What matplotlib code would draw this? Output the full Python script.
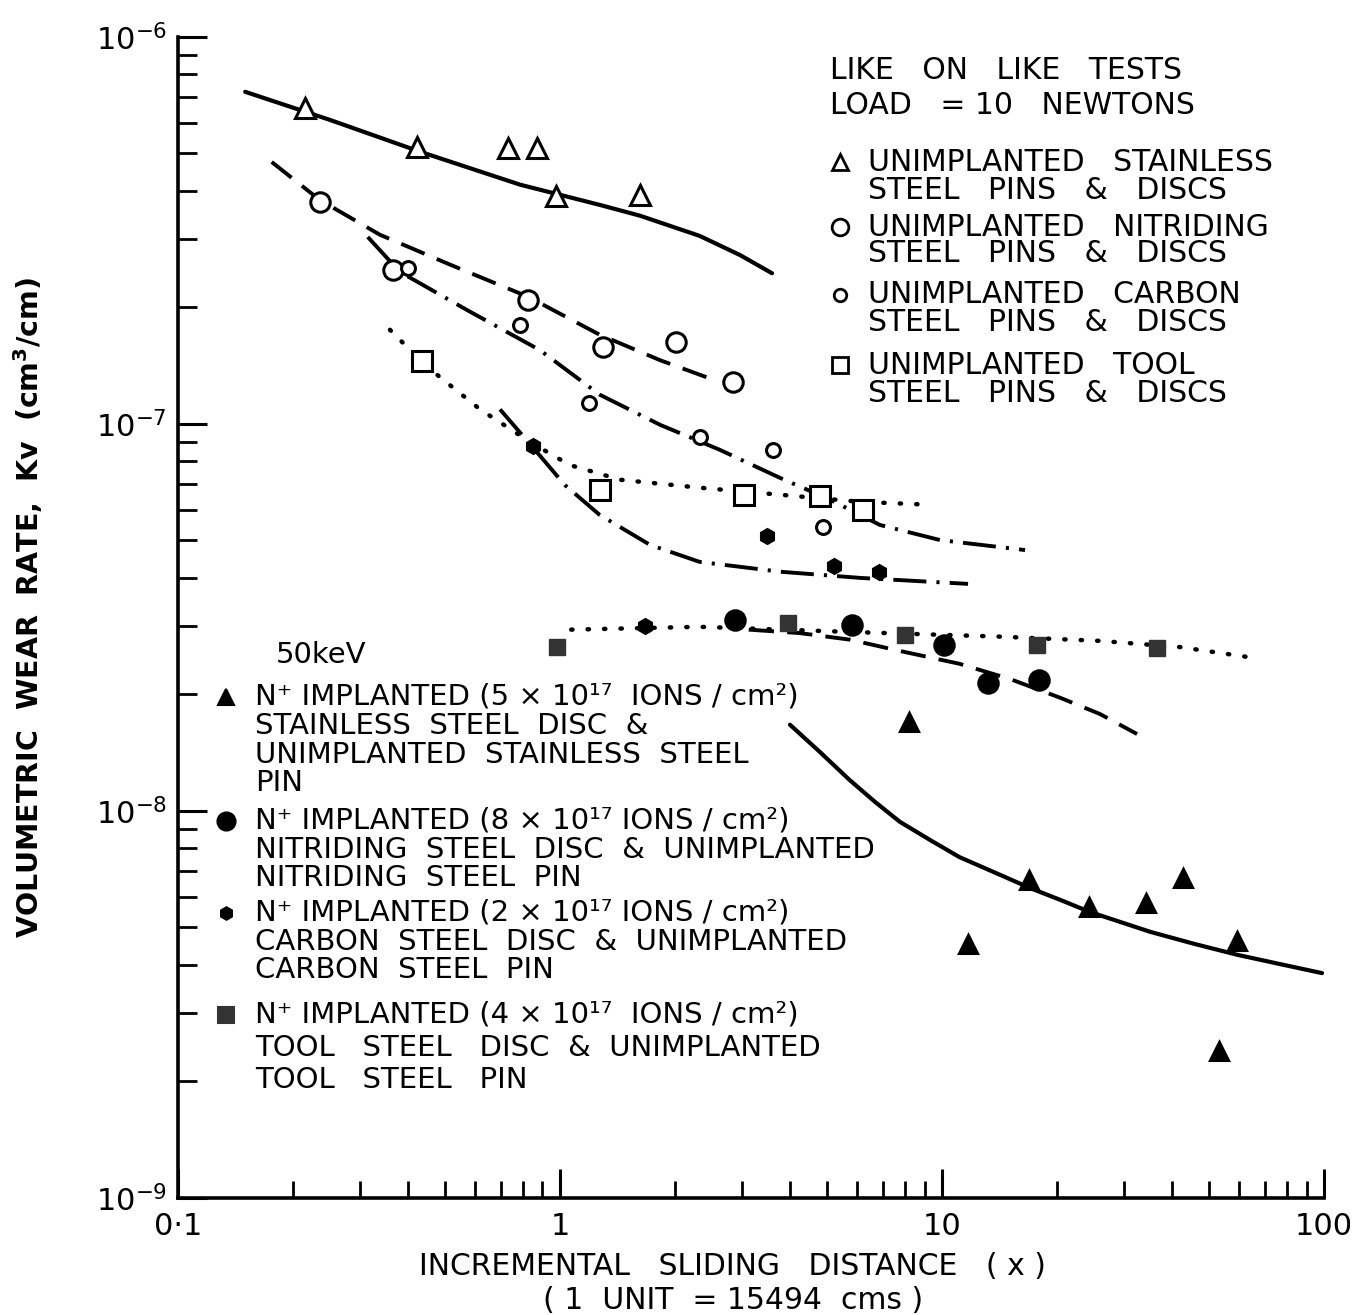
import matplotlib.pyplot as plt
from matplotlib.ticker import LogLocator, NullFormatter, FixedLocator, FixedFormatter

plt.rcParams['font.family'] = ['DejaVu Sans']
plt.rcParams['mathtext.fontset'] = 'dejavusans'

# ---- unimplanted stainless steel (open triangles, solid line)
ss_x = [0.215, 0.423, 0.73, 0.87, 0.977, 1.62]
ss_y = [6.55e-7, 5.2e-7, 5.17e-7, 5.17e-7, 3.88e-7, 3.9e-7]
ss_fit_x = [0.150, 0.250, 0.430, 0.786, 1.27, 1.62, 2.32, 2.96, 3.59]
ss_fit_y = [7.21e-7, 6.1e-7, 5.05e-7, 4.15e-7, 3.68e-7, 3.45e-7, 3.06e-7, 2.73e-7, 2.45e-7]

# ---- unimplanted nitriding steel (large open circles, dashed)
ni_x = [0.235, 0.365, 0.825, 1.30, 2.01, 2.84]
ni_y = [3.75e-7, 2.5e-7, 2.09e-7, 1.58e-7, 1.63e-7, 1.28e-7]
ni_fit_x = [0.176, 0.235, 0.338, 0.515, 0.825, 1.27, 1.83, 2.47]
ni_fit_y = [4.75e-7, 3.79e-7, 3.08e-7, 2.58e-7, 2.13e-7, 1.70e-7, 1.46e-7, 1.31e-7]

# ---- unimplanted carbon steel (small open circles, dash-dot)
cs_x = [0.40, 0.786, 1.19, 2.32, 3.61, 4.88]
cs_y = [2.53e-7, 1.80e-7, 1.13e-7, 9.25e-8, 8.57e-8, 5.42e-8]
cs_fit_x = [0.314, 0.381, 0.581, 0.887, 1.27, 1.83, 2.62, 3.77, 5.09, 6.88, 9.88, 16.5]
cs_fit_y = [3.04e-7, 2.47e-7, 1.95e-7, 1.55e-7, 1.19e-7, 9.94e-8, 8.57e-8, 7.25e-8,
            6.37e-8, 5.48e-8, 5.01e-8, 4.72e-8]

# ---- unimplanted tool steel (open squares, dotted)
ts_x = [0.435, 1.27, 3.03, 4.79, 6.21]
ts_y = [1.45e-7, 6.75e-8, 6.56e-8, 6.52e-8, 6.0e-8]
ts_fit_x = [0.359, 0.443, 0.618, 0.835, 1.06, 1.44, 2.32, 3.77, 6.10, 9.31]
ts_fit_y = [1.75e-7, 1.42e-7, 1.09e-7, 8.98e-8, 7.83e-8, 7.17e-8, 6.84e-8, 6.56e-8,
            6.29e-8, 6.18e-8]

# ---- N+ implanted stainless (filled triangles, solid)
ssi_x = [8.2, 11.7, 16.9, 24.3, 34.2, 42.8, 59.2, 53.1]
ssi_y = [1.70e-8, 4.53e-9, 6.64e-9, 5.65e-9, 5.78e-9, 6.71e-9, 4.61e-9, 2.40e-9]
ssi_fit_x = [4.0, 4.79, 5.74, 6.68, 7.76, 9.31, 11.1, 13.8, 17.0, 20.4, 24.4, 29.2,
             35.1, 45.9, 59.2, 76.7, 98.8]
ssi_fit_y = [1.67e-8, 1.42e-8, 1.20e-8, 1.055e-8, 9.37e-9, 8.41e-9, 7.6e-9, 6.92e-9,
             6.32e-9, 5.89e-9, 5.48e-9, 5.17e-9, 4.87e-9, 4.53e-9, 4.25e-9, 4.02e-9,
             3.81e-9]

# ---- N+ implanted nitriding (large filled circles, dashed)
nii_x = [2.87, 5.81, 10.1, 13.2, 17.9]
nii_y = [3.12e-8, 3.03e-8, 2.69e-8, 2.14e-8, 2.18e-8]
nii_fit_x = [3.12, 4.25, 5.74, 7.76, 11.1, 15.1, 20.4, 25.9, 32.4]
nii_fit_y = [2.94e-8, 2.88e-8, 2.77e-8, 2.59e-8, 2.40e-8, 2.19e-8, 1.96e-8, 1.78e-8, 1.58e-8]

# ---- N+ implanted carbon (small filled circles, dash-dot)
csi_x = [0.851, 1.67, 3.48, 5.21, 6.84]
csi_y = [8.78e-8, 3.01e-8, 5.14e-8, 4.30e-8, 4.15e-8]
csi_fit_x = [0.697, 0.86, 1.03, 1.27, 1.72, 2.32, 3.77, 6.10, 11.7]
csi_fit_y = [1.09e-7, 8.57e-8, 6.95e-8, 5.82e-8, 4.87e-8, 4.40e-8, 4.15e-8, 4.0e-8, 3.86e-8]

# ---- N+ implanted tool steel (filled squares, dotted)
tsi_x = [0.982, 3.95, 8.0, 17.7, 36.6]
tsi_y = [2.65e-8, 3.06e-8, 2.85e-8, 2.69e-8, 2.64e-8]
tsi_fit_x = [1.07, 2.32, 5.74, 14.2, 25.9, 42.0, 62.9]
tsi_fit_y = [2.94e-8, 2.99e-8, 2.90e-8, 2.82e-8, 2.75e-8, 2.65e-8, 2.50e-8]

x_ticks = [0.1, 1, 10, 100]
x_tick_labels = ['0·1', '1', '10', '100']
y_ticks = [1e-9, 1e-8, 1e-7, 1e-6]
y_tick_labels = [r'$10^{-9}$', r'$10^{-8}$', r'$10^{-7}$', r'$10^{-6}$']

fig = plt.figure(figsize=(13.58, 13.15), dpi=100)
ax = fig.add_axes([0.131, 0.089, 0.844, 0.883])
ax.set_xscale('log')
ax.set_yscale('log')
ax.set_xlim(0.1, 100)
ax.set_ylim(1e-9, 1e-6)

lw = 2.4
dashed = (0, (6.5, 3.4))
dashdot = (0, (8.5, 2.6, 0.8, 2.6))
dotted = (0, (0.3, 3.4))

# fitted curves
ax.plot(ss_fit_x, ss_fit_y, color='black', lw=lw + 0.6, solid_capstyle='round')
ax.plot(ni_fit_x, ni_fit_y, color='black', lw=lw + 0.4, linestyle=dashed)
ax.plot(cs_fit_x, cs_fit_y, color='black', lw=lw + 0.4, linestyle=dashdot)
ax.plot(ts_fit_x, ts_fit_y, color='black', lw=lw + 0.8, linestyle=dotted,
        dash_capstyle='round')
ax.plot(ssi_fit_x, ssi_fit_y, color='black', lw=lw + 0.6, solid_capstyle='round')
ax.plot(nii_fit_x, nii_fit_y, color='black', lw=lw + 0.4, linestyle=dashed)
ax.plot(csi_fit_x, csi_fit_y, color='black', lw=lw + 0.4, linestyle=dashdot)
ax.plot(tsi_fit_x, tsi_fit_y, color='black', lw=lw + 0.8, linestyle=dotted,
        dash_capstyle='round')

# data points
mk = dict(linestyle='none', color='black', mew=2.2)
ax.plot(ss_x, ss_y, marker='^', ms=14, mfc='white', **mk)
ax.plot(ni_x, ni_y, marker='o', ms=14, mfc='white', **mk)
ax.plot(cs_x, cs_y, marker='o', ms=10, mfc='white', **mk)
ax.plot(ts_x, ts_y, marker='s', ms=15, mfc='white', **mk)
ax.plot(ssi_x, ssi_y, marker='^', ms=13, mfc='black', **mk)
ax.plot(nii_x, nii_y, marker='o', ms=14, mfc='black', **mk)
ax.plot(csi_x, csi_y, marker='h', ms=10, mfc='black', **mk)
ax.plot(tsi_x, tsi_y, marker='s', ms=12, mfc='#333333', mec='#333333',
        linestyle='none', mew=1)

# axes styling
for s in ['top', 'right']:
    ax.spines[s].set_visible(False)
for s in ['left', 'bottom']:
    ax.spines[s].set_linewidth(2.6)

ax.xaxis.set_major_locator(FixedLocator(x_ticks))
ax.xaxis.set_major_formatter(FixedFormatter(x_tick_labels))
ax.yaxis.set_major_locator(FixedLocator(y_ticks))
ax.yaxis.set_major_formatter(FixedFormatter(y_tick_labels))
ax.xaxis.set_minor_locator(LogLocator(base=10, subs=range(2, 10)))
ax.yaxis.set_minor_locator(LogLocator(base=10, subs=range(2, 10)))
ax.xaxis.set_minor_formatter(NullFormatter())
ax.yaxis.set_minor_formatter(NullFormatter())
ax.tick_params(which='major', direction='in', length=21, width=2.2,
               labelsize=22, pad=10)
ax.tick_params(which='minor', direction='in', length=12, width=2.0)
ax.tick_params(axis='y', which='minor', length=14)
ax.tick_params(axis='y', which='major', pad=8)

ax.set_ylabel('VOLUMETRIC  WEAR  RATE,  Kv  (cm$^{\\mathbf{3}}$/cm)', fontsize=20.5,
              fontweight='bold', va='center')
ax.yaxis.set_label_coords(-0.131, 0.509)
ax.text(0.484, -0.0594, 'INCREMENTAL   SLIDING   DISTANCE   ( x )', transform=ax.transAxes,
        ha='center', va='center', fontsize=21.5)
ax.text(0.484, -0.0879, '( 1  UNIT  = 15494  cms )', transform=ax.transAxes,
        ha='center', va='center', fontsize=21.5)

# upper right key
tk = dict(transform=ax.transAxes, fontsize=21.5, va='center', ha='left')
ax.text(0.569, 0.971, 'LIKE   ON   LIKE   TESTS', **tk)
ax.text(0.569, 0.941, 'LOAD   = 10   NEWTONS', **tk)
upper_key = [
    ('^', 11, 'white', 0.892, 'UNIMPLANTED   STAINLESS', 0.868, 'STEEL   PINS   &   DISCS'),
    ('o', 12, 'white', 0.836, 'UNIMPLANTED   NITRIDING', 0.813, 'STEEL   PINS   &   DISCS'),
    ('o', 9, 'white', 0.778, 'UNIMPLANTED   CARBON', 0.754, 'STEEL   PINS   &   DISCS'),
    ('s', 11, 'white', 0.717, 'UNIMPLANTED   TOOL', 0.693, 'STEEL   PINS   &   DISCS'),
]
for m, ms, fc, y1, t1, y2, t2 in upper_key:
    ax.plot([0.578], [y1], marker=m, ms=ms, mfc=fc, mec='black', mew=2.0,
            transform=ax.transAxes, clip_on=False)
    ax.text(0.602, y1, t1, **tk)
    ax.text(0.602, y2, t2, **tk)

# lower left key
lk = dict(tk, fontsize=21)
ax.text(0.085, 0.468, '50keV', **lk)
lower_key = [
    ('^', 11, 'black', [0.4315, 0.4065, 0.3815, 0.3575],
     ['N⁺ IMPLANTED (5 × 10¹⁷  IONS / cm²)',
      'STAINLESS  STEEL  DISC  &',
      'UNIMPLANTED  STAINLESS  STEEL',
      'PIN']),
    ('o', 13, 'black', [0.3248, 0.2998, 0.2757],
     ['N⁺ IMPLANTED (8 × 10¹⁷ IONS / cm²)',
      'NITRIDING  STEEL  DISC  &  UNIMPLANTED',
      'NITRIDING  STEEL  PIN']),
    ('h', 9, 'black', [0.2455, 0.2205, 0.196],
     ['N⁺ IMPLANTED (2 × 10¹⁷ IONS / cm²)',
      'CARBON  STEEL  DISC  &  UNIMPLANTED',
      'CARBON  STEEL  PIN']),
    ('s', 11, '#333333', [0.158, 0.129, 0.1016],
     ['N⁺ IMPLANTED (4 × 10¹⁷  IONS / cm²)',
      'TOOL   STEEL   DISC  &  UNIMPLANTED',
      'TOOL   STEEL   PIN']),
]
for m, ms, fc, ys, texts in lower_key:
    ax.plot([0.042], [ys[0]], marker=m, ms=ms, mfc=fc, mec=fc, mew=1.5,
            transform=ax.transAxes, clip_on=False)
    for y, t in zip(ys, texts):
        ax.text(0.067, y, t, **lk)

fig.savefig('out.png', dpi=100)
